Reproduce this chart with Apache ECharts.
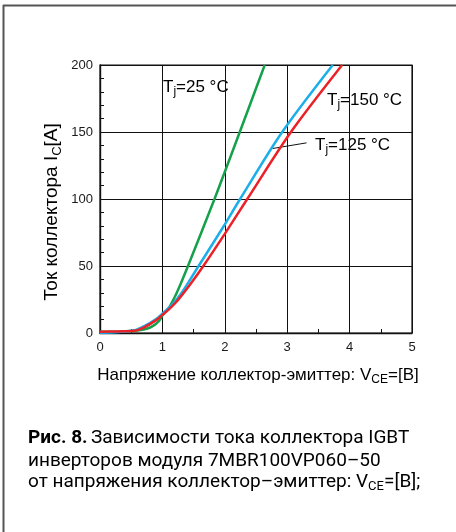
<!DOCTYPE html>
<html><head><meta charset="utf-8">
<script src="https://cdn.jsdelivr.net/npm/echarts@6/dist/echarts.min.js"></script>
<style>html,body{margin:0;padding:0;background:#fff}#c{width:456px;height:532px}</style>
</head><body><div id="c"></div>
<script>
// Collector current vs collector-emitter voltage, [V_CE (V), I_C (A)]
const seriesNames = ['Tj=25 °C', 'Tj=125 °C', 'Tj=150 °C'];
const tj25 = [[0,1],[0.4,1.2],[0.6,1.8],[0.75,3.2],[0.85,5.3],[0.95,9.3],[1.0,13],[1.1,18.5],[1.2,27],[1.3,37.5],[1.41,50],[1.835,100],[2.24,150],[2.64,200]];
const tj125 = [[0,0.2],[0.3,0.8],[0.55,2],[0.7,5],[0.9,10.5],[1.0,14.5],[1.1,18.7],[1.2,23.5],[1.3,29.5],[1.42,38],[1.58,50],[2.0,81],[2.245,100],[2.92,150],[3.73,200]];
const tj150 = [[0,1],[0.3,1.2],[0.55,1.6],[0.7,4],[0.9,9.6],[1.0,13.5],[1.1,17.5],[1.2,22],[1.3,27.5],[1.45,36.5],[1.656,50],[2.0,74],[2.36,100],[3.06,150],[3.88,200]];
const leader125 = [[2.77,137.7],[3.31,141.9]];
const xTicks = [0,1,2,3,4,5];
const yTicks = [0,50,100,150,200];

const FONT = '"Liberation Sans", Arial, sans-serif';
const chart = echarts.init(document.getElementById('c'), null, {renderer:'canvas'});
const labelRich = {
  a:{fontFamily:FONT,fontSize:17,color:'#1a1a1a'},
  s:{fontFamily:FONT,fontSize:12,color:'#1a1a1a',padding:[10,0,0,0]}
};
const capFont = '"Roboto", sans-serif';
chart.setOption({
  animation:false,
  grid:{left:100,right:44,top:65,bottom:199,show:true,borderColor:'#111',borderWidth:1.2,backgroundColor:'transparent'},
  xAxis:{type:'value',min:xTicks[0],max:xTicks[xTicks.length-1],interval:1,
    axisLine:{show:true,lineStyle:{color:'#111',width:1.4}},
    axisTick:{show:false},
    minorTick:{show:true,splitNumber:2,length:-4,lineStyle:{color:'#111',width:1}},
    axisLabel:{fontFamily:FONT,fontSize:13,color:'#1a1a1a',margin:8},
    splitLine:{show:true,lineStyle:{color:'#111',width:1}}},
  yAxis:{type:'value',min:yTicks[0],max:yTicks[yTicks.length-1],interval:50,
    axisLine:{show:true,lineStyle:{color:'#111',width:1.4}},
    axisTick:{show:false},
    minorTick:{show:true,splitNumber:5,length:-4,lineStyle:{color:'#111',width:1}},
    axisLabel:{fontFamily:FONT,fontSize:13,color:'#1a1a1a',margin:7},
    splitLine:{show:true,lineStyle:{color:'#111',width:1}}},
  series:[
    {name:seriesNames[0],type:'line',data:tj25,smooth:0.3,showSymbol:false,lineStyle:{color:'#15a04b',width:2.5},z:3},
    {name:seriesNames[1],type:'line',data:tj125,smooth:0.3,showSymbol:false,lineStyle:{color:'#1bafea',width:2.5},z:4,
      markLine:{silent:true,symbol:['none','none'],label:{show:false},lineStyle:{color:'#111',width:1,type:'solid'},
        data:[[{coord:leader125[0]},{coord:leader125[1]}]]}},
    {name:seriesNames[2],type:'line',data:tj150,smooth:0.3,showSymbol:false,lineStyle:{color:'#ec2127',width:2.5},z:5}
  ],
  graphic:[
    {type:'line',shape:{x1:3,y1:5.5,x2:456,y2:5.5},style:{stroke:'#555',lineWidth:2}},
    {type:'line',shape:{x1:3.5,y1:5,x2:3.5,y2:532},style:{stroke:'#555',lineWidth:2}},
    {type:'text',x:163,y:87,style:{text:'{a|T}{s|j}{a|=25 °C}',rich:labelRich,textVerticalAlign:'middle'}},
    {type:'text',x:327,y:100,style:{text:'{a|T}{s|j}{a|=150 °C}',rich:labelRich,textVerticalAlign:'middle'}},
    {type:'text',x:315,y:145,style:{text:'{a|T}{s|j}{a|=125 °C}',rich:labelRich,textVerticalAlign:'middle'}},
    {type:'text',x:52,y:212,rotation:Math.PI/2,style:{text:'{a|Ток коллектора I}{s|C}{a|[A]}',
      rich:{a:{fontFamily:FONT,fontSize:19,color:'#1a1a1a'},s:{fontFamily:FONT,fontSize:13,color:'#1a1a1a',padding:[11,0,0,0]}},
      textAlign:'center',textVerticalAlign:'middle'}},
    {type:'text',x:258,y:375,style:{text:'{a|Напряжение коллектор-эмиттер: V}{s|CE}{a|=[B]}',
      rich:{a:{fontFamily:FONT,fontSize:17,color:'#1a1a1a'},s:{fontFamily:FONT,fontSize:12,color:'#1a1a1a',padding:[9,0,0,0]}},
      textAlign:'center',textVerticalAlign:'middle'}},
    {type:'text',x:28,y:438,style:{text:'{b|Рис. 8.} {a|Зависимости тока коллектора IGBT}',
      rich:{b:{fontFamily:capFont,fontSize:19,fontWeight:'bold',color:'#1a1a1a'},a:{fontFamily:capFont,fontSize:19,color:'#2a2a2a'}},
      textVerticalAlign:'middle'}},
    {type:'text',x:28,y:461,style:{text:'{a|инверторов модуля 7MBR100VP060–50}',
      rich:{a:{fontFamily:capFont,fontSize:19,color:'#2a2a2a'}},textVerticalAlign:'middle'}},
    {type:'text',x:28,y:482,style:{text:'{a|от напряжения коллектор–эмиттер: V}{s|CE}{a|=[B];}',
      rich:{a:{fontFamily:capFont,fontSize:19,color:'#2a2a2a'},s:{fontFamily:capFont,fontSize:13,color:'#2a2a2a',padding:[10,0,0,0]}},
      textVerticalAlign:'middle'}}
  ]
});
</script></body></html>
